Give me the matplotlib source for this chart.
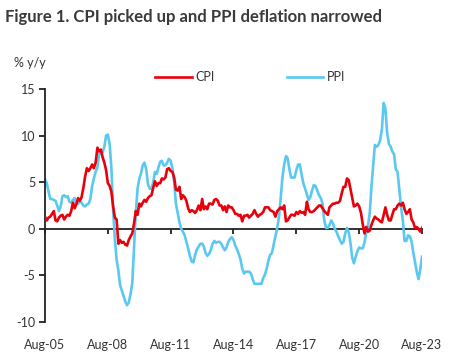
import matplotlib
matplotlib.use("Agg")
import matplotlib.pyplot as plt
import numpy as np
import pandas as pd

cpi = [
    # 2005 Aug-Dec
    1.3, 0.9, 1.2, 1.3, 1.6,
    # 2006
    1.9, 0.9, 0.8, 1.2, 1.4, 1.5, 1.0, 1.3, 1.5, 1.4, 1.9, 2.8,
    # 2007
    2.2, 2.7, 3.3, 3.0, 3.4, 4.4, 5.6, 6.5, 6.2, 6.5, 6.9, 6.5,
    # 2008
    7.1, 8.7, 8.3, 8.5, 7.7, 7.1, 6.3, 4.9, 4.6, 4.0, 2.4, 1.2,
    # 2009
    1.0, -1.6, -1.2, -1.5, -1.4, -1.7, -1.8, -1.2, -0.8, -0.5, 0.6, 1.9,
    # 2010
    1.5, 2.7, 2.4, 2.8, 3.1, 2.9, 3.3, 3.5, 3.6, 4.4, 5.1, 4.6,
    # 2011
    4.9, 4.9, 5.4, 5.3, 5.5, 6.4, 6.5, 6.2, 6.1, 5.5, 4.2, 4.1,
    # 2012
    4.5, 3.2, 3.6, 3.4, 3.0, 2.2, 1.8, 2.0, 1.9, 1.7, 2.0, 2.5,
    # 2013
    2.0, 3.2, 2.1, 2.4, 2.1, 2.7, 2.7, 2.6, 3.1, 3.2, 3.0, 2.5,
    # 2014
    2.5, 2.0, 2.4, 1.8, 2.5, 2.3, 2.3, 2.0, 1.6, 1.6, 1.4, 1.5,
    # 2015
    0.8, 1.4, 1.4, 1.5, 1.2, 1.4, 1.6, 2.0, 1.6, 1.3, 1.5, 1.6,
    # 2016
    1.8, 2.3, 2.3, 2.3, 2.0, 1.9, 1.8, 1.3, 1.9, 2.1, 2.3, 2.1,
    # 2017
    2.5, 0.8, 0.9, 1.2, 1.5, 1.5, 1.4, 1.8, 1.6, 1.9, 1.7, 1.8,
    # 2018
    1.5, 2.9, 2.1, 1.8, 1.8, 1.9, 2.1, 2.3, 2.5, 2.5, 2.2, 1.9,
    # 2019
    1.7, 1.5, 2.3, 2.5, 2.7, 2.7, 2.8, 2.8, 3.0, 3.8, 4.5, 4.5,
    # 2020
    5.4, 5.2, 4.3, 3.3, 2.4, 2.5, 2.7, 2.4, 1.7, 0.5, -0.5, 0.2,
    # 2021
    -0.3, -0.2, 0.4, 0.9, 1.3, 1.1, 1.0, 0.8, 0.7, 1.5, 2.3, 1.5,
    # 2022
    0.9, 0.9, 1.5, 2.1, 2.1, 2.5, 2.7, 2.5, 2.8, 2.1, 1.6, 1.8,
    # 2023 Jan-Aug
    2.1, 1.0, 0.7, 0.1, 0.2, 0.0, -0.3, 0.1,
]

ppi = [
    # 2005 Aug-Dec
    5.3, 4.9, 4.0, 3.2, 3.2,
    # 2006
    3.1, 3.0, 2.5, 1.9, 2.4, 3.5, 3.6, 3.4, 3.5, 2.9, 2.8, 3.1,
    # 2007
    3.3, 2.6, 2.7, 2.9, 2.8, 2.5, 2.4, 2.6, 2.7, 3.2, 4.6, 5.4,
    # 2008
    6.1, 6.6, 8.0, 8.1, 8.2, 8.8, 10.0, 10.1, 9.1, 6.6, 2.0, -1.1,
    # 2009
    -3.3, -4.5, -6.0, -6.6, -7.2, -7.8, -8.2, -7.9, -7.0, -5.8, -2.1, 1.7,
    # 2010
    4.3, 5.4, 5.9, 6.8, 7.1, 6.4, 4.8, 4.3, 4.3, 5.0, 6.1, 5.9,
    # 2011
    6.6, 7.2, 7.3, 6.8, 6.8, 7.1, 7.5, 7.3, 6.5, 5.0, 2.7, 1.7,
    # 2012
    0.7, 0.0, -0.3, -0.7, -1.4, -2.1, -2.9, -3.5, -3.6, -2.8, -2.2, -1.9,
    # 2013
    -1.6, -1.6, -1.9, -2.6, -2.9, -2.7, -2.3, -1.6, -1.3, -1.5, -1.4, -1.4,
    # 2014
    -1.6, -2.0, -2.3, -2.0, -1.4, -1.1, -0.9, -1.2, -1.8, -2.2, -2.7, -3.3,
    # 2015
    -4.3, -4.8, -4.6, -4.6, -4.6, -4.8, -5.4, -5.9, -5.9, -5.9, -5.9, -5.9,
    # 2016
    -5.3, -4.9, -4.3, -3.4, -2.8, -2.6, -1.7, -0.8, 0.1, 1.2, 3.3, 5.5,
    # 2017
    6.9, 7.8, 7.6, 6.4, 5.5, 5.5, 5.5, 6.3, 6.9, 6.9, 5.8, 4.9,
    # 2018
    4.3, 3.7, 3.1, 3.4, 4.1, 4.7, 4.6, 4.1, 3.6, 3.3, 2.7, 0.9,
    # 2019
    0.1, 0.1, 0.4, 0.9, 0.6, 0.0, -0.3, -0.8, -1.2, -1.6, -1.4, -0.5,
    # 2020
    0.1, -0.4, -1.5, -3.1, -3.7, -3.0, -2.4, -2.0, -2.1, -2.1, -1.5, -0.4,
    # 2021
    0.3, 1.7, 4.4, 6.8, 9.0, 8.8, 9.0, 9.5, 10.7, 13.5, 12.9, 10.3,
    # 2022
    9.1, 8.8, 8.3, 8.0, 6.4, 6.1, 4.2, 2.3, 0.9, -1.3, -1.3, -0.7,
    # 2023 Jan-Aug
    -0.8, -1.4, -2.5, -3.6, -4.6, -5.4, -4.4, -3.0,
]

dates = pd.date_range("2005-08-01", periods=len(cpi), freq="MS")
tick_labels = ["Aug-05", "Aug-08", "Aug-11", "Aug-14", "Aug-17", "Aug-20", "Aug-23"]
tick_dates = pd.to_datetime(["2005-08-01", "2008-08-01", "2011-08-01", "2014-08-01",
                             "2017-08-01", "2020-08-01", "2023-08-01"])

W, H = 451, 363
fig = plt.figure(figsize=(W / 100, H / 100), dpi=100)
ax = fig.add_axes([45 / W, 1 - 322 / H, (422 - 45) / W, (322 - 89) / H])

CPI_C = "#E8000B"
PPI_C = "#5BC8F0"
TXT = "#333333"
FONT = "Lato"

ax.plot(dates, cpi, color=CPI_C, lw=1.9, label="CPI", zorder=3)
ax.plot(dates, ppi, color=PPI_C, lw=1.9, label="PPI", zorder=2)

ax.set_ylim(-10, 15)
ax.set_xlim(tick_dates[0], tick_dates[-1])
ax.set_yticks([-10, -5, 0, 5, 10, 15])
ax.set_yticklabels(["-10", "-5", "0", "5", "10", "15"], fontfamily=FONT, fontsize=9, color=TXT)

for s in ["top", "right"]:
    ax.spines[s].set_visible(False)
ax.spines["left"].set_color("#222222")
ax.spines["left"].set_linewidth(1.3)
ax.spines["bottom"].set_position(("data", 0))
ax.spines["bottom"].set_color("#222222")
ax.spines["bottom"].set_linewidth(1.3)
ax.spines["bottom"].set_zorder(1)

ax.set_xticks(tick_dates)
ax.set_xticklabels([])
ax.tick_params(axis="x", direction="out", length=3.5, width=1.3, color="#222222")
ax.tick_params(axis="y", direction="out", length=4, width=1.3, color="#222222", pad=3)

sec = ax.secondary_xaxis(location=0)
sec.set_xticks(tick_dates)
sec.set_xticklabels(tick_labels, fontfamily=FONT, fontsize=9, color=TXT)
sec.tick_params(length=0, pad=12)
sec.spines["bottom"].set_visible(False)

fig.text(5 / W, 1 - 17 / H, "Figure 1. CPI picked up and PPI deflation narrowed",
         fontfamily=FONT, fontweight="bold", fontsize=12, color="#3a3a3a",
         ha="left", va="center")
fig.text(14 / W, 1 - 63 / H, "% y/y", fontfamily=FONT, fontsize=9, color=TXT,
         ha="left", va="center")

leg = fig.legend(loc="center left", bbox_to_anchor=(144 / W, 1 - 77 / H), ncol=2,
                 frameon=False, handlelength=2.9, handletextpad=0.3, columnspacing=5.8,
                 prop={"family": FONT, "size": 9})
for t in leg.get_texts():
    t.set_color(TXT)

fig.savefig("out.png", dpi=100)
